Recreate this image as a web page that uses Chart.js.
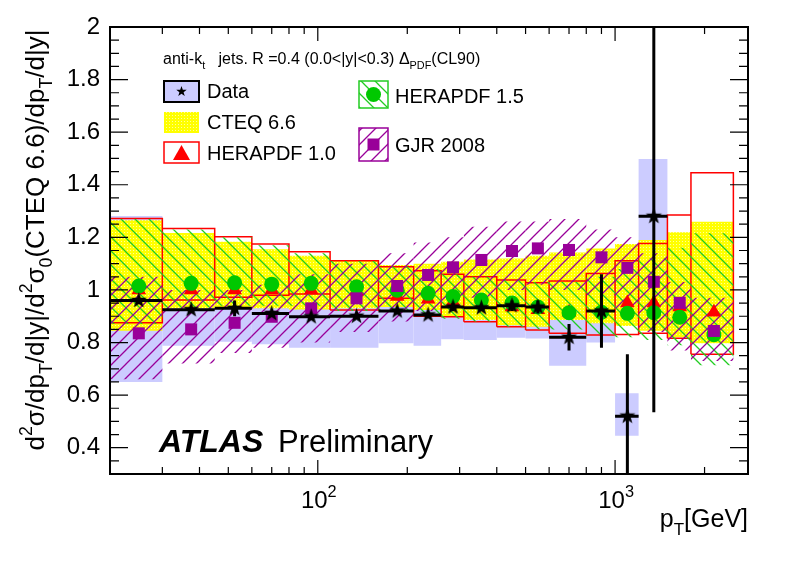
<!DOCTYPE html>
<html>
<head>
<meta charset="utf-8">
<script src="https://cdn.jsdelivr.net/npm/chart.js@4.4.1/dist/chart.umd.min.js"></script>
<style>
  html, body { margin: 0; padding: 0; background: #fff; }
  #c { display: block; }
</style>
</head>
<body>
<canvas id="c" width="788" height="566"></canvas>
<script>
const FONT = '"Liberation Sans", Arial, Helvetica, sans-serif';

// pT bin edges [GeV]
const binEdges = [20, 30, 45, 60, 80, 110, 160, 210, 260, 310, 400, 500, 600, 800, 1000, 1200, 1500, 1800, 2500];

// data / CTEQ 6.6
const dataVal  = [0.96, 0.925, 0.93, 0.91, 0.898, 0.90, 0.92, 0.905, 0.935, 0.932, 0.94, 0.935, 0.82, 0.92, 0.52, 1.28, null, null];
const dataStat = [0.01, 0.01, 0.03, 0.01, 0.01, 0.01, 0.012, 0.012, 0.015, 0.012, 0.02, 0.025, 0.05, 0.14, 0.235, 0.745, null, null];
const sysLo    = [0.65, 0.788, 0.803, 0.793, 0.78, 0.78, 0.797, 0.788, 0.812, 0.81, 0.818, 0.815, 0.712, 0.80, 0.445, 1.06, null, null];
const sysHi    = [1.281, 1.06, 1.06, 1.03, 1.02, 1.02, 1.04, 1.02, 1.06, 1.05, 1.06, 1.055, 0.93, 1.04, 0.607, 1.498, null, null];

// CTEQ 6.6 band
const cteqLo = [0.845, 0.93, 0.935, 0.93, 0.926, 0.93, 0.935, 0.924, 0.90, 0.886, 0.866, 0.86, 0.886, 0.873, 0.863, 0.845, 0.82, 0.797];
const cteqHi = [1.265, 1.217, 1.183, 1.155, 1.13, 1.114, 1.095, 1.10, 1.107, 1.116, 1.12, 1.13, 1.142, 1.158, 1.175, 1.19, 1.219, 1.259];

// HERAPDF 1.0
const hera10Val = [1.0, 1.0, 1.0, 1.0, 1.0, 0.995, 0.975, 0.965, 0.955, 0.945, 0.935, 0.925, 0.915, 0.92, 0.95, 0.95, 0.935, 0.915];
const hera10Lo  = [0.875, 0.962, 0.972, 0.98, 0.985, 0.924, 0.968, 0.90, 0.898, 0.879, 0.86, 0.848, 0.835, 0.829, 0.831, 0.835, 0.816, 0.755];
const hera10Hi  = [1.272, 1.234, 1.202, 1.175, 1.145, 1.111, 1.088, 1.073, 1.06, 1.05, 1.038, 1.027, 1.034, 1.063, 1.111, 1.177, 1.285, 1.446];

// HERAPDF 1.5
const hera15Val = [1.015, 1.025, 1.027, 1.022, 1.025, 1.012, 0.999, 0.987, 0.975, 0.962, 0.95, 0.935, 0.913, 0.915, 0.911, 0.913, 0.896, 0.83];
const hera15Lo  = [0.87, 0.93, 0.94, 0.94, 0.94, 0.92, 0.92, 0.90, 0.89, 0.88, 0.86, 0.85, 0.85, 0.83, 0.82, 0.81, 0.79, 0.714];
const hera15Hi  = [1.27, 1.23, 1.20, 1.17, 1.14, 1.11, 1.09, 1.08, 1.06, 1.05, 1.04, 1.03, 1.03, 1.05, 1.08, 1.12, 1.16, 1.216];

// GJR 2008
const gjrVal = [0.835, 0.85, 0.875, 0.898, 0.93, 0.968, 1.015, 1.057, 1.086, 1.114, 1.148, 1.158, 1.152, 1.124, 1.084, 1.031, 0.951, 0.844];
const gjrLo  = [0.66, 0.72, 0.76, 0.78, 0.80, 0.84, 0.88, 0.92, 0.95, 0.97, 1.0, 1.02, 1.0, 0.98, 0.93, 0.84, 0.77, 0.73];
const gjrHi  = [1.05, 1.0, 1.0, 1.02, 1.06, 1.10, 1.14, 1.18, 1.20, 1.24, 1.26, 1.26, 1.27, 1.23, 1.20, 1.14, 1.03, 0.97];

const yTicks = [0.4, 0.6, 0.8, 1, 1.2, 1.4, 1.6, 1.8, 2];
const xTicks = [100, 1000];
const xTickExp = ['2', '3'];

// colours
const BLUE = '#ccccff', RED = '#ff0000', GREEN = '#00c800', GREEN_H = '#22cc22', PURPLE = '#990099';

function hatch(color, slash) {
  const s = 14, c = document.createElement('canvas');
  c.width = c.height = s;
  const g = c.getContext('2d');
  g.strokeStyle = color; g.lineWidth = 1.3;
  g.beginPath();
  if (slash) {
    g.moveTo(-2, s + 2); g.lineTo(s + 2, -2);
    g.moveTo(-2, 2); g.lineTo(2, -2);
    g.moveTo(s - 2, s + 2); g.lineTo(s + 2, s - 2);
  } else {
    g.moveTo(-2, -2); g.lineTo(s + 2, s + 2);
    g.moveTo(s - 2, -2); g.lineTo(s + 2, 2);
    g.moveTo(-2, s - 2); g.lineTo(2, s + 2);
  }
  g.stroke();
  return g.createPattern(c, 'repeat');
}

function dots() {
  const c = document.createElement('canvas');
  c.width = c.height = 3;
  const g = c.getContext('2d');
  g.fillStyle = '#ffff00'; g.fillRect(0, 0, 3, 3);
  g.fillStyle = '#ffff9a'; g.fillRect(1, 1, 1, 1);
  return g.createPattern(c, 'repeat');
}

function starImg(r) {
  const s = Math.ceil(2 * r) + 2, c = document.createElement('canvas');
  c.width = c.height = s;
  const g = c.getContext('2d');
  g.fillStyle = '#000';
  g.beginPath();
  for (let i = 0; i < 10; i++) {
    const rr = i % 2 ? r * 0.4 : r, a = -Math.PI / 2 + i * Math.PI / 5;
    g.lineTo(s / 2 + rr * Math.cos(a), s / 2 + rr * Math.sin(a));
  }
  g.closePath(); g.fill();
  return c;
}

const yellowPat = dots();
const greenPat = hatch(GREEN_H, false);
const purplePat = hatch(PURPLE, true);
const star = starImg(8.5);

const mid = i => (binEdges[i] + binEdges[i + 1]) / 2;

// closed rectangles per bin, separated by gaps
function boxes(lo, hi) {
  const pts = [];
  for (let i = 0; i < lo.length; i++) {
    if (lo[i] == null) continue;
    const a = binEdges[i], b = binEdges[i + 1];
    pts.push({x: a, y: lo[i]}, {x: a, y: hi[i]}, {x: b, y: hi[i]}, {x: b, y: lo[i]}, {x: a, y: lo[i]}, {x: a, y: null});
  }
  return pts;
}
function markers(vals) {
  return vals.map((v, i) => ({x: mid(i), y: v})).filter(p => p.y != null);
}
function hbars(vals) {
  const pts = [];
  vals.forEach((v, i) => { if (v != null) pts.push({x: binEdges[i], y: v}, {x: binEdges[i + 1], y: v}, {x: binEdges[i + 1], y: null}); });
  return pts;
}
function vbars(vals, err) {
  const pts = [];
  vals.forEach((v, i) => { if (v != null) pts.push({x: mid(i), y: v - err[i]}, {x: mid(i), y: v + err[i]}, {x: mid(i), y: null}); });
  return pts;
}

const noLine = 'rgba(0,0,0,0)';
const area = (data, bg, order) => ({data, backgroundColor: bg, borderColor: noLine, borderWidth: 0, fill: 'shape', pointRadius: 0, order, spanGaps: false});

const datasets = [
  {data: markers(dataVal), showLine: false, pointStyle: star, pointRadius: 8, order: 0},
  {data: hbars(dataVal), borderColor: '#000', borderWidth: 3, pointRadius: 0, fill: false, order: 1, spanGaps: false},
  {data: vbars(dataVal, dataStat), borderColor: '#000', borderWidth: 3, pointRadius: 0, fill: false, order: 1, spanGaps: false, clip: 0},
  {data: markers(gjrVal), showLine: false, pointStyle: 'rect', pointRadius: 8.5, backgroundColor: PURPLE, borderColor: PURPLE, borderWidth: 0, order: 2},
  {data: markers(hera15Val), showLine: false, pointStyle: 'circle', pointRadius: 7.5, backgroundColor: GREEN, borderColor: GREEN, borderWidth: 0, order: 3},
  {data: markers(hera10Val), showLine: false, pointStyle: 'triangle', pointRadius: 8.5, backgroundColor: RED, borderColor: RED, borderWidth: 0, order: 4},
  area(boxes(gjrLo, gjrHi), purplePat, 5),
  area(boxes(hera15Lo, hera15Hi), greenPat, 6),
  {data: boxes(hera10Lo, hera10Hi), borderColor: RED, borderWidth: 1.5, pointRadius: 0, fill: false, order: 7, spanGaps: false},
  area(boxes(cteqLo, cteqHi), yellowPat, 8),
  area(boxes(sysLo, sysHi), BLUE, 9)
];

function richText(ctx, parts, x, y, size, align) {
  const widths = parts.map(([t, m]) => {
    ctx.font = (m ? size * 0.68 : size) + 'px ' + FONT;
    return ctx.measureText(t).width;
  });
  const total = widths.reduce((a, b) => a + b, 0);
  let cx = align === 'right' ? x - total : align === 'center' ? x - total / 2 : x;
  ctx.textBaseline = 'alphabetic';
  ctx.textAlign = 'left';
  parts.forEach(([t, m], i) => {
    ctx.font = (m ? size * 0.68 : size) + 'px ' + FONT;
    const dy = m === 1 ? size * 0.3 : m === 2 ? -size * 0.45 : 0;
    ctx.fillText(t, cx, y + dy);
    cx += widths[i];
  });
}

const xMinor = [30, 40, 50, 60, 70, 80, 90, 200, 300, 400, 500, 600, 700, 800, 900, 2000];
const yMinorStep = 0.05;

const framePlugin = {
  id: 'frame',
  afterDatasetsDraw(chart) {
    const {ctx, chartArea: ca, scales: {x, y}} = chart;
    ctx.save();
    ctx.strokeStyle = '#000';
    ctx.lineWidth = 1.2;
    ctx.beginPath();
    for (let k = 6; k <= 40; k++) {
      const v = k * yMinorStep, py = y.getPixelForValue(v);
      const len = k % 4 === 0 ? 18 : 9;
      ctx.moveTo(ca.left, py); ctx.lineTo(ca.left + len, py);
      ctx.moveTo(ca.right, py); ctx.lineTo(ca.right - len, py);
    }
    xMinor.forEach(v => {
      const px = x.getPixelForValue(v);
      ctx.moveTo(px, ca.bottom); ctx.lineTo(px, ca.bottom - 7);
      ctx.moveTo(px, ca.top); ctx.lineTo(px, ca.top + 7);
    });
    xTicks.forEach(v => {
      const px = x.getPixelForValue(v);
      ctx.moveTo(px, ca.bottom); ctx.lineTo(px, ca.bottom - 14);
      ctx.moveTo(px, ca.top); ctx.lineTo(px, ca.top + 14);
    });
    ctx.stroke();
    ctx.lineWidth = 2;
    ctx.strokeRect(ca.left, ca.top, ca.right - ca.left, ca.bottom - ca.top);
    ctx.restore();
  },
  afterDraw(chart) {
    const {ctx, scales: {x}} = chart;
    ctx.save();
    ctx.fillStyle = '#000';
    // x tick labels with superscript exponent
    xTicks.forEach((v, i) => {
      richText(ctx, [['10', 0], [xTickExp[i], 2]], x.getPixelForValue(v) + 1, 508, 24, 'center');
    });
    // axis titles
    ctx.save();
    ctx.translate(44, 240);
    ctx.rotate(-Math.PI / 2);
    richText(ctx, [['d', 0], ['2', 2], ['σ/dp', 0], ['T', 1], ['/d|y|/d', 0], ['2', 2], ['σ', 0], ['0', 1], ['(CTEQ 6.6)/dp', 0], ['T', 1], ['/d|y|', 0]], 0, 0, 26, 'center');
    ctx.restore();
    richText(ctx, [['p', 0], ['T', 1], ['[GeV]', 0]], 748, 527, 25, 'right');

    // header
    richText(ctx, [['anti-k', 0], ['t', 1], ['   jets. R =0.4 (0.0<|y|<0.3) Δ', 0], ['PDF', 1], ['(CL90)', 0]], 163, 64, 16, 'left');

    // legend
    ctx.fillStyle = BLUE; ctx.fillRect(164, 81, 35, 21);
    ctx.strokeStyle = '#000'; ctx.lineWidth = 2; ctx.strokeRect(164, 81, 35, 21);
    ctx.drawImage(starImg(5.5), 181.5 - 6.5, 91.5 - 6.5);

    ctx.fillStyle = yellowPat; ctx.fillRect(164, 112, 35, 21);

    ctx.fillStyle = '#fff'; ctx.fillRect(164, 142, 35, 21);
    ctx.strokeStyle = RED; ctx.lineWidth = 1.5; ctx.strokeRect(164, 142, 35, 21);
    ctx.fillStyle = RED; ctx.beginPath();
    ctx.moveTo(181.5, 145); ctx.lineTo(190, 160); ctx.lineTo(173, 160); ctx.closePath(); ctx.fill();

    ctx.fillStyle = greenPat; ctx.fillRect(359, 81, 29, 27);
    ctx.strokeStyle = GREEN_H; ctx.lineWidth = 1.5; ctx.strokeRect(359, 81, 29, 27);
    ctx.fillStyle = GREEN; ctx.beginPath(); ctx.arc(373.5, 94.5, 7.5, 0, 2 * Math.PI); ctx.fill();

    ctx.fillStyle = purplePat; ctx.fillRect(359, 128, 29, 33);
    ctx.strokeStyle = PURPLE; ctx.lineWidth = 1.5; ctx.strokeRect(359, 128, 29, 33);
    ctx.fillStyle = PURPLE; ctx.fillRect(367.5, 138.5, 12, 12);

    ctx.fillStyle = '#000';
    ctx.font = '20px ' + FONT;
    ctx.textBaseline = 'middle'; ctx.textAlign = 'left';
    ctx.fillText('Data', 207, 92);
    ctx.fillText('CTEQ 6.6', 207, 123);
    ctx.fillText('HERAPDF 1.0', 207, 154);
    ctx.fillText('HERAPDF 1.5', 395, 97);
    ctx.fillText('GJR 2008', 395, 146);

    // ATLAS label
    ctx.textBaseline = 'alphabetic';
    ctx.font = 'italic bold 32px ' + FONT;
    ctx.fillText('ATLAS', 159, 452);
    ctx.font = '31px ' + FONT;
    ctx.fillText('Preliminary', 278, 452);
    ctx.restore();
  }
};

new Chart(document.getElementById('c'), {
  type: 'line',
  data: {datasets},
  options: {
    responsive: false,
    animation: false,
    layout: {padding: {top: 27, right: 40, left: 0, bottom: 0}},
    plugins: {legend: {display: false}, tooltip: {enabled: false}},
    elements: {line: {tension: 0}},
    scales: {
      x: {
        type: 'logarithmic', min: 20, max: 2800,
        grid: {display: false, drawTicks: false}, border: {display: false},
        afterBuildTicks(s) { s.ticks = xTicks.map(v => ({value: v, major: true})); },
        afterFit(s) { s.height = 92; },
        ticks: {display: false}
      },
      y: {
        type: 'linear', min: 0.3, max: 2.0,
        grid: {display: false, drawTicks: false}, border: {display: false},
        afterBuildTicks(s) { s.ticks = yTicks.map(v => ({value: v})); },
        afterFit(s) { s.width = 110; },
        ticks: {
          callback: v => String(Math.round(v * 10) / 10),
          font: {size: 24, family: FONT}, color: '#000', padding: 10
        }
      }
    }
  },
  plugins: [framePlugin]
});
</script>
</body>
</html>
